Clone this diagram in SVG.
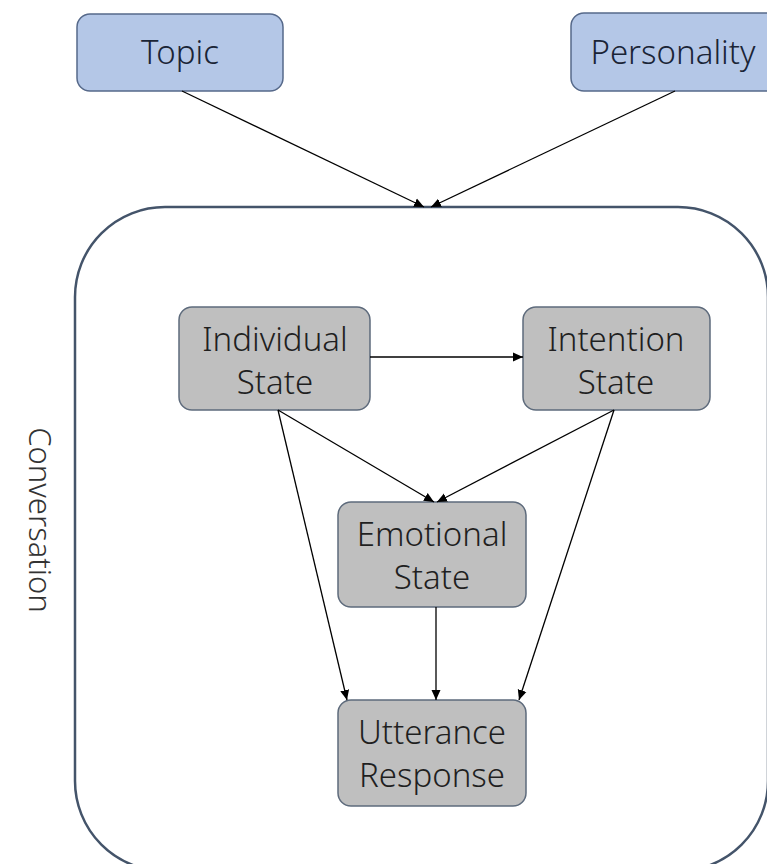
<svg xmlns="http://www.w3.org/2000/svg" width="767" height="864" viewBox="0 0 767 864">
  <defs>
    <marker id="arrow" viewBox="0 0 10 10" refX="10" refY="5" markerWidth="10" markerHeight="10" markerUnits="userSpaceOnUse" orient="auto">
      <path d="M0,0.5 L10,5 L0,9.5 z" fill="#000"/>
    </marker>
  </defs>
  <style>
    .input rect { fill: #b4c7e7; stroke: #56698a; stroke-width: 1.5; }
    .state rect { fill: #bfbfbf; stroke: #5e6b7c; stroke-width: 1.5; }
    text { font-family: "Noto Sans", "Open Sans", sans-serif; font-weight: 300; font-size: 33px; text-anchor: middle; fill: #1f1f1f; }
    .input text { fill: #1a2436; }
    text.frame-label { font-size: 31px; fill: #333; }
    .edge { stroke: #000; stroke-width: 1.3; fill: none; marker-end: url(#arrow); }
  </style>
  <rect width="767" height="864" fill="#fff"/>

  <!-- conversation frame -->
  <g id="conversation">
    <rect x="75" y="207" width="693" height="664" rx="90" ry="90" fill="none" stroke="#44546a" stroke-width="2.5"/>
    <text class="frame-label" transform="translate(29,520) rotate(90)">Conversation</text>
  </g>

  <g id="topic" class="input">
    <rect x="77" y="14" width="206" height="77" rx="13"/>
    <text x="180" y="64">Topic</text>
  </g>

  <g id="personality" class="input">
    <rect x="571" y="13" width="212" height="78" rx="13"/>
    <text x="673" y="64">Personality</text>
  </g>

  <g id="individual-state" class="state">
    <rect x="179" y="307" width="191" height="103" rx="13"/>
    <text x="275" y="351">Individual</text>
    <text x="275" y="394">State</text>
  </g>

  <g id="intention-state" class="state">
    <rect x="523" y="307" width="187" height="103" rx="13"/>
    <text x="616" y="351">Intention</text>
    <text x="616" y="394">State</text>
  </g>

  <g id="emotional-state" class="state">
    <rect x="338" y="502" width="188" height="105" rx="13"/>
    <text x="432" y="546">Emotional</text>
    <text x="432" y="589">State</text>
  </g>

  <g id="utterance-response" class="state">
    <rect x="338" y="700" width="188" height="106" rx="13"/>
    <text x="432" y="744">Utterance</text>
    <text x="432" y="787">Response</text>
  </g>

  <g id="connectors">
    <line class="edge" x1="182" y1="91" x2="424" y2="207"/>
    <line class="edge" x1="675" y1="91" x2="431" y2="207"/>
    <line class="edge" x1="370" y1="357" x2="523" y2="357"/>
    <line class="edge" x1="278" y1="410" x2="434" y2="502"/>
    <line class="edge" x1="614" y1="410" x2="437" y2="502"/>
    <line class="edge" x1="278" y1="410" x2="347" y2="700"/>
    <line class="edge" x1="614" y1="410" x2="519" y2="700"/>
    <line class="edge" x1="436" y1="607" x2="436" y2="700"/>
  </g>
</svg>
